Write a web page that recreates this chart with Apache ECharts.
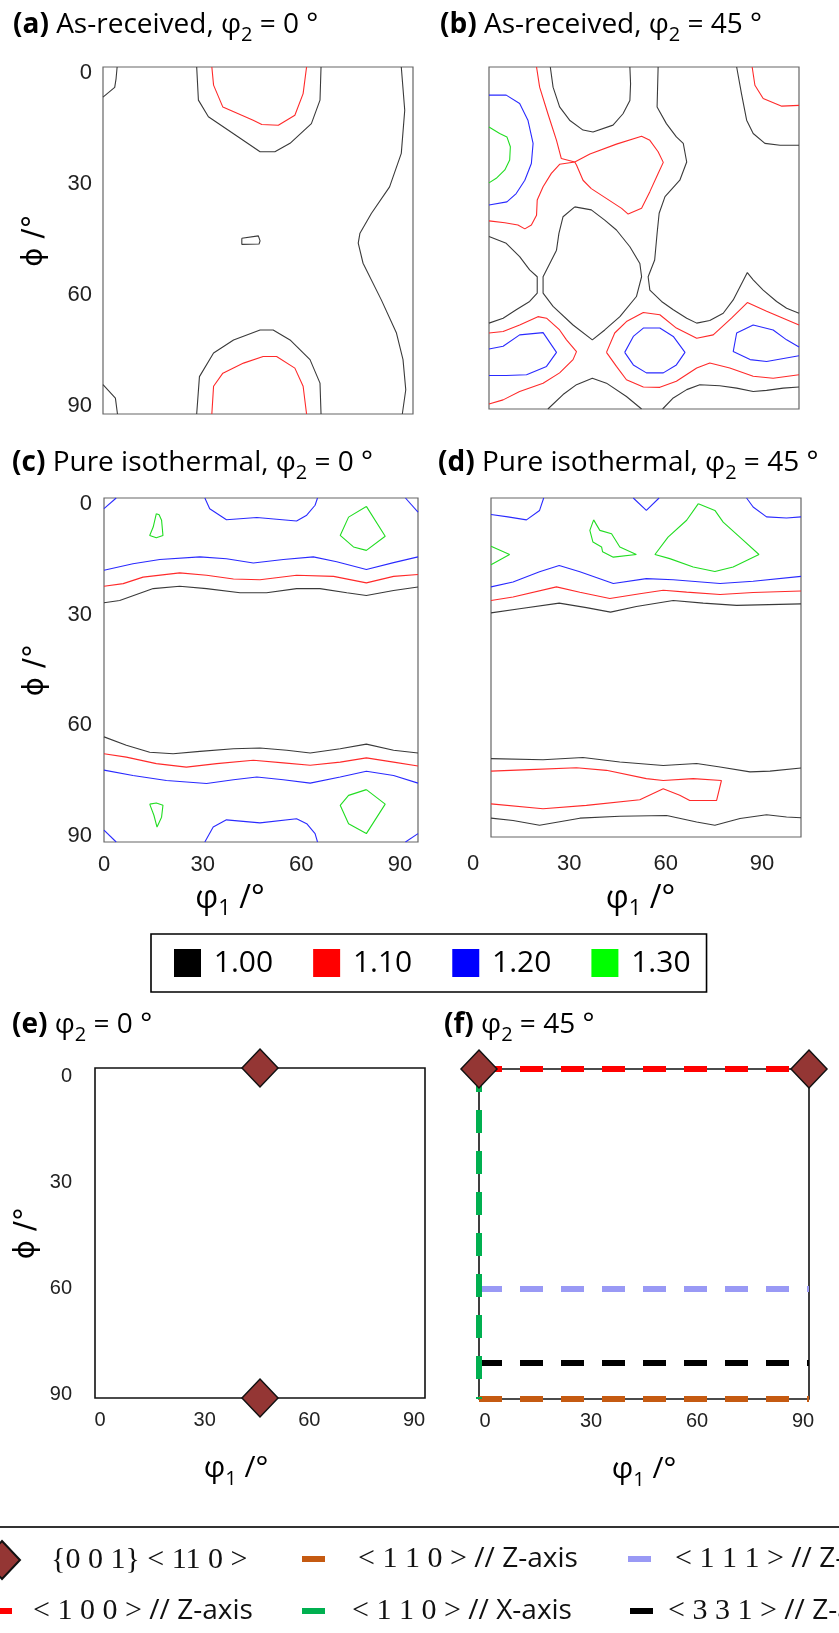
<!DOCTYPE html>
<html style="height: 100%">
<head>
    <meta charset="utf-8">
</head>
<body style="height: 100%; margin: 0; background: #fff">
<div id="container" style="width: 839px; height: 1633px"></div>
<script type="text/javascript" src="https://cdn.jsdelivr.net/npm/echarts@6/dist/echarts.min.js"></script>
<script type="text/javascript">
    // contour polylines, [phi1, Phi] in degrees, one array per panel and level
    var aK = [
        [[4.1,0],[3.8,3],[3.4,5.3],[0,7.8]],
        [[0,82.4],[3.6,85.9],[4.2,90]],
        [[27.2,0],[27.7,8.6],[30.6,12.9],[37.9,17.3],[45.6,22.0],[49.9,22.0],[54.3,19.8],[60.5,14.7],[63.0,8.6],[63.3,0]],
        [[27.2,90],[28.0,80.3],[32.1,74.2],[37.9,70.8],[45.6,68.2],[49.4,68.2],[54.3,70.8],[60.1,75.9],[63.0,82.0],[63.3,90]],
        [[40.3,44.4],[45.1,43.8],[45.6,45.1],[45.3,45.9],[40.3,46.0],[40.3,44.4]],
        [[86.6,0],[87.6,11.2],[86.6,22.4],[83.2,31.1],[77.9,38.0],[74.6,43.1],[74.1,45.7],[75.5,50.9],[80.8,60.4],[85.2,69.0],[87.1,75.9],[87.9,83.7],[86.9,90]]
    ];
    var aR = [
        [[31.6,0],[32.1,4.7],[34.8,10.4],[43.6,13.8],[46.1,14.9],[50.9,15.1],[55.7,12.5],[58.1,6.9],[59.1,0]],
        [[31.6,90],[32.1,82.8],[34.8,79.4],[40.8,76.8],[46.5,75.1],[50.4,75.1],[55.7,78.1],[58.1,82.8],[59.1,90]]
    ];
    var bK = [
        [[17.8,0],[18.6,5.3],[20.5,10.5],[23.4,14.0],[27.3,16.6],[30.2,17.1],[36.0,15.3],[38.9,12.3],[40.9,8.8],[41.1,4.4],[40.9,0]],
        [[49.1,0],[48.8,10.5],[51.5,14.9],[54.4,18.4],[56.4,20.1],[57.4,25.0],[55.4,29.8],[51.1,34.1],[49.4,38.5],[48.8,43.8],[48.1,50.8],[46.2,55.2],[46.7,58.7],[50.1,61.7],[53.5,63.9],[57.4,66.1],[60.3,67.4],[64.1,66.7],[68.0,64.8],[70.9,61.3],[75.0,54.1],[76.7,56.0],[79.6,58.7],[83.5,61.7],[86.4,63.5],[90,64.8]],
        [[71.9,0],[73.3,7.0],[74.8,14.0],[76.7,17.5],[80.1,20.1],[84.5,20.6],[90,20.6]],
        [[24.9,36.8],[21.5,39.4],[20.3,43.8],[19.6,48.2],[15.7,55.2],[15.7,59.5],[18.6,63.0],[24.4,67.9],[30.0,71.8],[33.6,69.2],[38.0,65.7],[42.8,60.4],[44.3,55.2],[43.8,51.7],[40.9,47.3],[37.0,42.9],[33.6,40.3],[29.7,37.6],[24.9,36.8]],
        [[0,44.6],[5.0,46.4],[8.9,49.9],[11.8,53.4],[14.0,55.2],[14.0,59.5],[11.8,61.7],[7.9,63.9],[4.1,66.1],[0,67.4]],
        [[17.1,90],[21.5,86.2],[25.4,83.6],[30.0,81.9],[34.1,83.2],[39.9,86.7],[44.3,90]],
        [[50.4,90],[53.5,87.1],[57.4,84.9],[61.2,83.6],[67.0,83.9],[71.9,84.5],[76.7,85.4],[80.6,85.1],[85.4,84.5],[90,84.2]]
    ];
    var bR = [
        [[13.8,0],[14.7,5.3],[17.1,12.3],[19.6,19.3],[21.0,24.1],[24.9,25.0],[29.3,22.9],[37.0,20.3],[44.3,18.2],[46.7,19.3],[49.1,22.3],[50.6,25.1],[49.1,28.0],[46.7,32.8],[44.3,37.2],[40.4,38.7],[38.5,37.2],[33.6,34.3],[29.7,32.0],[27.3,29.8],[25.4,25.8],[24.9,25.0]],
        [[0,40.5],[4.6,41.0],[8.4,41.6],[10.4,42.6],[12.3,41.6],[13.8,39.0],[14.0,35.0],[15.7,31.5],[18.1,28.0],[20.5,25.6],[24.9,25.0]],
        [[76.4,0],[77.2,4.8],[79.6,8.3],[85.0,10.3],[90,10.1]],
        [[0,70.0],[4.1,69.6],[8.9,67.9],[14.2,65.7],[16.7,66.1],[20.5,69.2],[22.5,71.8],[25.4,74.9],[24.4,77.0],[20.5,80.5],[15.7,83.2],[8.9,85.4],[4.1,87.6],[0,88.7]],
        [[34.1,75.1],[36.5,70.0],[39.9,67.0],[44.8,64.6],[49.6,65.2],[54.4,68.7],[60.3,71.4],[65.1,70.5],[70.4,66.1],[75.0,62.0],[80.6,64.3],[90,67.9]],
        [[34.1,75.1],[37.0,78.8],[39.9,82.3],[44.8,84.2],[49.6,84.3],[54.4,82.7],[60.3,79.2],[64.1,77.9],[69.9,79.2],[76.7,81.4],[82.5,81.9],[90,81.0]]
    ];
    var bB = [
        [[0,7.4],[5.0,7.4],[8.9,9.6],[11.3,14.0],[12.8,20.1],[12.3,25.4],[10.4,29.8],[7.9,33.3],[5.2,35.5],[0,36.3]],
        [[0,74.2],[4.1,73.5],[8.9,70.5],[15.7,69.9],[19.6,75.1],[16.7,78.8],[10.9,81.0],[5.0,81.2],[0,81.2]],
        [[39.4,75.1],[41.9,70.9],[44.8,68.7],[49.6,68.7],[53.5,70.9],[56.9,75.1],[54.4,78.4],[50.6,80.5],[45.7,80.5],[41.9,78.4],[39.4,75.1]],
        [[90,73.7],[86.4,71.8],[82.5,69.2],[76.7,67.9],[71.9,70.0],[70.9,74.9],[75.8,77.0],[80.6,77.5],[90,76.0]]
    ];
    var bG = [
        [[0,15.8],[3.1,17.5],[5.2,18.4],[6.2,21.0],[6.0,24.5],[4.6,27.1],[2.1,29.3],[0,30.5]]
    ];
    var cK = [
        [[0,27.4],[4.5,26.8],[14.1,23.7],[21.7,23.1],[29.4,23.7],[39.0,24.8],[46.6,24.8],[55.2,23.7],[61.9,23.7],[69.6,24.8],[75.2,25.5],[83.0,24.2],[90,23.3]],
        [[0,62.5],[6.4,64.7],[13.1,66.5],[19.8,66.9],[27.5,66.3],[37.1,65.6],[44.7,65.4],[52.4,66.0],[59.1,66.7],[67.7,65.6],[75.2,64.4],[83.0,66.0],[90,66.7]]
    ];
    var cR = [
        [[0,23.1],[5.5,22.4],[11.2,20.7],[21.7,19.6],[29.4,20.2],[37.1,21.2],[44.7,21.4],[55.2,20.2],[65.8,20.5],[75.2,22.2],[83.0,20.5],[90,20.0]],
        [[0,66.9],[6.4,67.8],[15.0,69.5],[23.6,70.4],[32.3,69.5],[42.8,68.6],[51.4,69.3],[59.1,69.9],[67.7,69.1],[75.2,68.0],[83.0,69.1],[90,70.1]]
    ];
    var cB = [
        [[0,2.8],[3.5,0]],
        [[86.4,0],[90,3.7]],
        [[28.9,0],[30.3,2.8],[35.1,5.7],[43.8,5.1],[55.2,6.0],[58.1,4.5],[60.5,1.9],[61.2,0]],
        [[0,18.9],[8.3,17.2],[16.0,16.1],[27.5,15.4],[35.1,15.9],[42.8,17.0],[51.4,16.1],[60.0,15.4],[66.7,16.7],[75.2,18.7],[83.0,16.9],[90,15.4]],
        [[0,71.2],[8.3,72.6],[17.9,73.9],[29.4,74.7],[37.1,73.7],[43.8,73.0],[51.4,73.7],[59.1,74.6],[67.7,73.0],[75.2,71.5],[83.0,72.6],[90,74.6]],
        [[28.9,90],[31.3,86.1],[35.1,84.2],[44.7,85.0],[55.2,83.9],[58.1,85.2],[60.5,87.8],[61.2,90]],
        [[0,86.9],[3.5,90]],
        [[86.4,90],[90,87.8]]
    ];
    var cG = [
        [[15.0,4.1],[14.1,7.6],[13.1,9.8],[15.0,10.4],[16.9,9.8],[16.5,5.8],[15.8,4.4],[15.0,4.1]],
        [[75.2,2.2],[70.1,5.0],[67.7,9.8],[71.5,12.8],[75.2,13.7],[80.6,10.0],[75.2,2.2]],
        [[13.1,80.1],[15.0,79.8],[16.9,80.4],[16.5,83.5],[15.2,86.1],[14.3,83.0],[13.1,80.1]],
        [[75.2,76.3],[70.1,77.8],[67.7,80.4],[70.1,85.2],[75.2,87.8],[80.6,80.1],[75.2,76.3]]
    ];
    var dK = [
        [[0,30.5],[8.3,29.4],[19.8,27.9],[27.7,29.1],[34.7,30.3],[42.2,28.8],[52.9,27.2],[61.6,27.9],[71.3,28.5],[90,28.1]],
        [[0,69.2],[15.1,69.5],[26.7,68.9],[37.4,70.1],[50.0,71.0],[59.7,70.5],[66.5,71.4],[75.2,72.7],[81.0,72.5],[90,71.7]],
        [[0,85.0],[6.4,85.6],[14.1,86.9],[25.8,85.0],[37.4,84.5],[51.0,84.3],[59.7,86.0],[65.0,86.9],[72.3,85.1],[80.0,84.1],[85.8,84.7],[90,84.9]]
    ];
    var dR = [
        [[0,27.2],[6.4,26.3],[19.0,23.6],[25.8,25.0],[34.5,26.7],[43.2,25.4],[50.0,24.5],[56.8,25.0],[66.5,25.6],[76.1,25.1],[90,24.7]],
        [[0,72.5],[11.2,72.1],[24.8,71.6],[33.5,72.3],[45.1,74.5],[50.0,75.0],[58.7,74.5],[66.9,75.0],[65.5,80.3],[57.7,80.3],[54.8,78.9],[50.0,77.2],[43.2,80.1],[27.7,81.6],[15.1,82.5],[0,81.2]]
    ];
    var dB = [
        [[15.3,0],[14.1,3.3],[10.3,5.8],[4.9,5.0],[0,4.4]],
        [[41.3,0],[45.1,3.3],[48.8,0]],
        [[74.2,0],[76.1,2.4],[80.0,5.0],[85.8,5.3],[90,5.0]],
        [[0,23.6],[6.4,22.3],[14.1,19.6],[19.8,17.9],[25.8,19.6],[35.5,22.7],[45.1,21.4],[52.9,21.7],[66.5,22.7],[76.1,22.1],[90,20.8]]
    ];
    var dG = [
        [[0,12.8],[5.4,15.0],[0,17.7]],
        [[29.8,5.8],[28.7,8.6],[29.6,11.7],[32.1,13.0],[32.4,14.3],[35.5,15.7],[42.2,15.0],[37.4,13.0],[35.0,9.5],[31.6,8.6],[29.8,5.8]],
        [[60.2,1.5],[65.0,3.3],[67.4,6.4],[73.2,11.2],[77.8,15.0],[70.3,18.3],[65.0,19.5],[58.7,18.3],[51.9,16.1],[47.6,15.0],[51.4,10.4],[56.8,5.9],[60.2,1.5]]
    ];

    // ideal orientations
    var eCube = [[45, 0], [45, 90]];
    var fCube = [[0, 0], [90, 0]];
    var f100Z = [[0, 0], [90, 0]];
    var f110Z = [[0, 90], [90, 90]];
    var f110X = [[0, 0], [0, 90]];
    var f111Z = [[0, 60], [90, 60]];
    var f331Z = [[0, 80.2], [90, 80.2]];

    var levels = ['1.00', '1.10', '1.20', '1.30'];
    var ticks = [0, 30, 60, 90];

    var SANS = "'Open Sans', sans-serif";
    var ARIAL = "'Liberation Sans', Arial, sans-serif";
    var SERIF = "'Liberation Serif', 'DejaVu Serif', serif";

    var dom = document.getElementById("container");
    var myChart = echarts.init(dom, null, {renderer: 'canvas'});

    // main plot frames: a b c d e f
    var frames = [
        {left: 103, top: 67, width: 310, height: 347, c: '#666', w: 1.2},
        {left: 489, top: 67, width: 310, height: 342, c: '#666', w: 1.2},
        {left: 104, top: 498, width: 314, height: 344, c: '#666', w: 1.2},
        {left: 491, top: 498, width: 310, height: 339, c: '#666', w: 1.2},
        {left: 95, top: 1068, width: 330, height: 330, c: '#111', w: 1.6},
        {left: 479, top: 1069, width: 330, height: 330, c: '#111', w: 1.6}
    ];
    // label-only axes: kind, grid box
    var labelGrids = [
        {k: 'y', left: 103, top: 73, width: 310, height: 333, margin: 11},    // a y
        {k: 'y', left: 104, top: 504, width: 314, height: 332, margin: 12},   // c y
        {k: 'x', left: 104, top: 498, width: 296, height: 344, margin: 12},   // c x
        {k: 'x', left: 473, top: 498, width: 289, height: 339, margin: 16},   // d x
        {k: 'y', left: 95, top: 1076, width: 330, height: 318, margin: 23, fs: 20},   // e y
        {k: 'x', left: 100, top: 1068, width: 314, height: 330, margin: 12, fs: 20},  // e x
        {k: 'x', left: 485, top: 1069, width: 318, height: 330, margin: 12, fs: 20}   // f x
    ];

    var grids = [], xAxes = [], yAxes = [];
    var hidden = function (g) { return {gridIndex: g, type: 'value', show: false, min: 0, max: 90}; };
    var bare = function (g) {
        return {gridIndex: g, type: 'value', min: 0, max: 90, axisLine: {show: false}, axisTick: {show: false},
            axisLabel: {show: false}, splitLine: {show: false}};
    };
    frames.forEach(function (f, i) {
        grids.push({left: f.left, top: f.top, width: f.width, height: f.height, show: true,
            borderColor: f.c, borderWidth: f.w, backgroundColor: 'transparent'});
        xAxes.push(bare(i));
        var y = bare(i);
        y.inverse = true;
        yAxes.push(y);
    });

    var phiName = {
        fontFamily: "'DejaVu Sans', sans-serif", fontSize: 29, color: '#000', lineHeight: 34
    };
    var phi1Style = function (fs, pad) {
        return {
            fontFamily: SANS, fontSize: fs, color: '#000', lineHeight: 42, verticalAlign: 'top', padding: pad,
            rich: {s: {fontFamily: SANS, fontSize: Math.round(fs * 0.68), lineHeight: 24, verticalAlign: 'bottom'}}
        };
    };
    function xName(ax, gap, fs, pad) {
        ax.name = 'φ{s|1} /°';
        ax.nameLocation = 'middle';
        ax.nameGap = gap;
        ax.nameTextStyle = phi1Style(fs, pad);
    }
    // y titles on a, c, e
    [0, 2, 4].forEach(function (i) {
        yAxes[i].name = 'ϕ /°';
        yAxes[i].nameLocation = 'middle';
        yAxes[i].nameGap = 52;
        yAxes[i].nameTextStyle = phiName;
    });

    labelGrids.forEach(function (L) {
        var g = grids.length;
        grids.push({left: L.left, top: L.top, width: L.width, height: L.height, show: false});
        var lab = {gridIndex: g, type: 'value', min: 0, max: 90, interval: 30,
            axisLine: {show: false}, axisTick: {show: false}, splitLine: {show: false},
            axisLabel: {margin: L.margin, fontFamily: ARIAL, fontSize: L.fs || 22, color: '#222',
                customValues: ticks}};
        if (L.k === 'x') {
            xAxes.push(lab);
            yAxes.push(hidden(g));
        } else {
            lab.inverse = true;
            yAxes.push(lab);
            xAxes.push(hidden(g));
        }
    });
    // x titles: c and d on their label axes, e and f on the frames
    xName(xAxes[8], 36, 32, [0, 44, 0, 0]);
    xName(xAxes[9], 41, 32, [0, 0, 0, 46]);
    xName(xAxes[4], 49, 30, [0, 48, 0, 0]);
    xName(xAxes[5], 49, 30, [0, 0, 0, 0]);

    var levelColor = {'1.00': '#3a3a3a', '1.10': '#ff2a2a', '1.20': '#2a2aff', '1.30': '#22dd22'};
    var series = [];
    function addContours(g, lines, level) {
        lines.forEach(function (pts) {
            series.push({
                type: 'line', name: level, xAxisIndex: g, yAxisIndex: g, data: pts,
                symbol: 'none', silent: true, animation: false,
                lineStyle: {color: levelColor[level], width: 1.1},
                itemStyle: {color: levelColor[level]}
            });
        });
    }
    addContours(0, aK, '1.00'); addContours(0, aR, '1.10');
    addContours(1, bK, '1.00'); addContours(1, bR, '1.10'); addContours(1, bB, '1.20'); addContours(1, bG, '1.30');
    addContours(2, cK, '1.00'); addContours(2, cR, '1.10'); addContours(2, cB, '1.20'); addContours(2, cG, '1.30');
    addContours(3, dK, '1.00'); addContours(3, dR, '1.10'); addContours(3, dB, '1.20'); addContours(3, dG, '1.30');

    var dash = [23, 18];
    function fiber(name, pts, color) {
        series.push({
            type: 'line', name: name, xAxisIndex: 5, yAxisIndex: 5, data: pts, symbol: 'none',
            silent: true, animation: false, z: 3,
            lineStyle: {color: color, width: 6, type: dash, cap: 'butt'},
            itemStyle: {color: color}
        });
    }
    var N100Z = '<100>//Z', N110Z = '<110>//Z', N110X = '<110>//X', N111Z = '<111>//Z', N331Z = '<331>//Z', NCUBE = '{001}<110>';
    fiber(N110Z, f110Z, '#c55a11');
    fiber(N331Z, f331Z, '#000000');
    fiber(N111Z, f111Z, '#9999f5');
    fiber(N100Z, f100Z, '#ff0000');
    fiber(N110X, f110X, '#00b050');
    [[4, eCube], [5, fCube]].forEach(function (p) {
        series.push({
            type: 'scatter', name: NCUBE, xAxisIndex: p[0], yAxisIndex: p[0], data: p[1],
            symbol: 'diamond', symbolSize: [36, 38], silent: true, animation: false, z: 5,
            itemStyle: {color: '#943634', borderColor: '#111', borderWidth: 1.5, opacity: 1}
        });
    });

    var title = function (text, left, top) {
        return {
            text: text, left: left, top: top, padding: 0,
            textStyle: {
                fontFamily: SANS, fontSize: 28, fontWeight: 'normal', color: '#000', lineHeight: 40,
                rich: {
                    b: {fontFamily: SANS, fontSize: 28, fontWeight: 'bold', lineHeight: 40},
                    s: {fontFamily: SANS, fontSize: 20, lineHeight: 22, verticalAlign: 'bottom'}
                }
            }
        };
    };

    var legendText = function (sp) {
        return {
            fontFamily: SERIF, fontSize: 30, color: '#111', lineHeight: 34,
            rich: {
                sp: {width: sp, lineHeight: 34},
                s: {fontFamily: SANS, fontSize: 28, color: '#111', lineHeight: 34}
            }
        };
    };
    var fiberLegend = function (name, color, left, top, sp, serifPart, sansPart) {
        return {
            left: left, top: top, padding: 0, selectedMode: false,
            itemWidth: 23, itemHeight: 6,
            data: [{name: name, icon: 'rect', itemStyle: {color: color}}],
            formatter: function () { return '{sp| }' + serifPart + '{s|' + sansPart + '}'; },
            textStyle: legendText(sp)
        };
    };

    option = {
        backgroundColor: '#fff',
        animation: false,
        title: [
            title('{b|(a)} As-received, φ{s|2} = 0 °', 13, 5),
            title('{b|(b)} As-received, φ{s|2} = 45 °', 440, 5),
            title('{b|(c)} Pure isothermal, φ{s|2} = 0 °', 12, 443),
            title('{b|(d)} Pure isothermal, φ{s|2} = 45 °', 438, 443),
            title('{b|(e)} φ{s|2} = 0 °', 12, 1005),
            title('{b|(f)} φ{s|2} = 45 °', 444, 1005)
        ],
        legend: [
            {
                left: 151, top: 934, orient: 'horizontal', padding: [14, 16, 14, 23],
                borderColor: '#000', borderWidth: 1.6, selectedMode: false,
                itemWidth: 27, itemHeight: 28, itemGap: 40,
                data: levels.map(function (l, i) {
                    return {name: l, icon: 'rect', itemStyle: {color: ['#000', '#f00', '#00f', '#0f0'][i]}};
                }),
                formatter: function (n) { return ' ' + n; },
                textStyle: {fontFamily: SANS, fontSize: 30, color: '#000', lineHeight: 28}
            },
            {
                left: -17, top: 1540, padding: 0, selectedMode: false,
                itemWidth: 36, itemHeight: 38,
                data: [{name: NCUBE, icon: 'diamond'}],
                formatter: function () { return '{sp| }{0 0 1} < 11 0 >'; },
                textStyle: legendText(26)
            },
            fiberLegend(N110Z, '#c55a11', 302, 1542, 28, '< 1 1 0 > ', '// Z-axis'),
            fiberLegend(N111Z, '#9999f5', 628, 1542, 19, '< 1 1 1 > ', '// Z-axis'),
            fiberLegend(N100Z, '#ff0000', -11, 1594, 16, '< 1 0 0 > ', '// Z-axis'),
            fiberLegend(N110X, '#00b050', 302, 1594, 22, '< 1 1 0 > ', '// X-axis'),
            fiberLegend(N331Z, '#000000', 630, 1594, 10, '< 3 3 1 > ', '// Z-axis')
        ],
        grid: grids,
        xAxis: xAxes,
        yAxis: yAxes,
        series: series,
        graphic: [
            {type: 'line', shape: {x1: 0, y1: 1527, x2: 839, y2: 1527}, style: {stroke: '#333', lineWidth: 2}}
        ]
    };
    if (option && typeof option === "object") {
        myChart.setOption(option, true);
    }
</script>
</body>
</html>
